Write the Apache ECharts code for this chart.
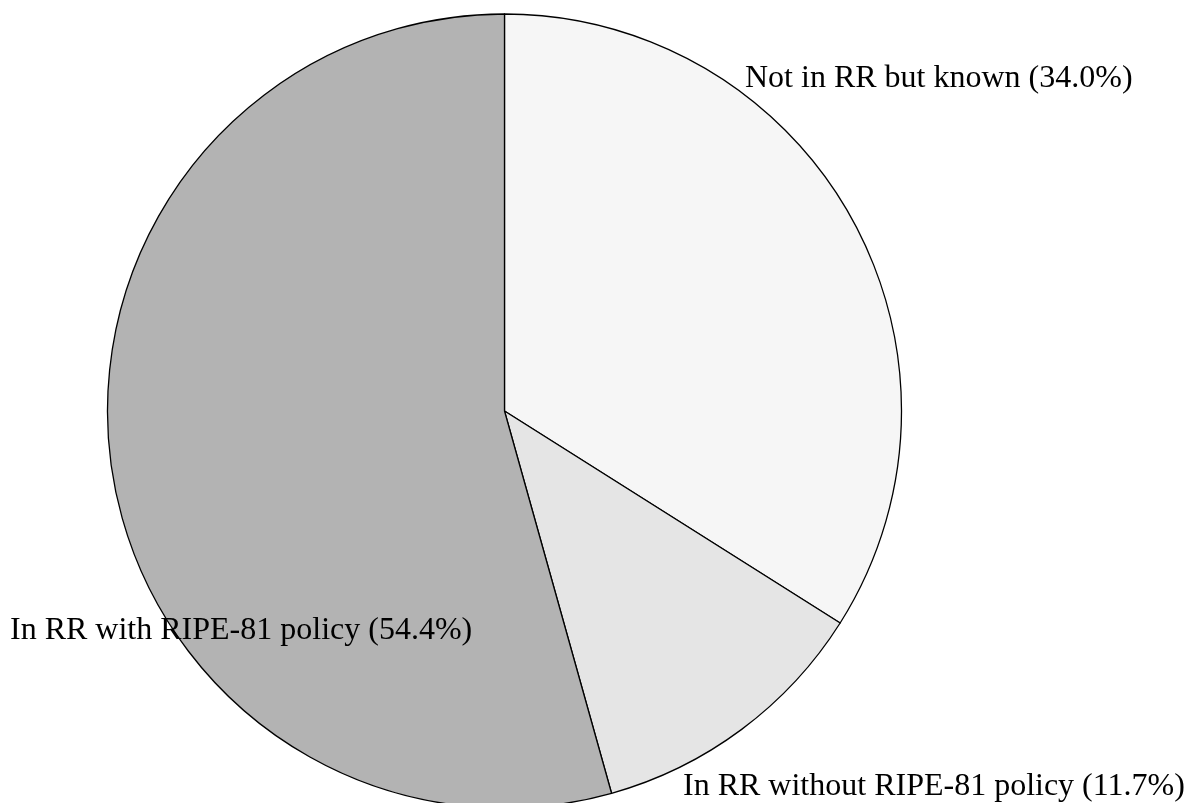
<!DOCTYPE html>
<html>
<head>
<meta charset="utf-8">
<script src="https://cdn.jsdelivr.net/npm/echarts@6/dist/echarts.min.js"></script>
<style>
html,body{margin:0;padding:0;background:#fff;}
#chart{width:1202px;height:803px;}
</style>
</head>
<body>
<div id="chart"></div>
<script>
const categories = ["Not in RR but known", "In RR without RIPE-81 policy", "In RR with RIPE-81 policy"];
const values = [34.0, 11.7, 54.4];
const sliceColors = ["#f6f6f6", "#e5e5e5", "#b3b3b3"];

const labelPos = [
  {x: 745, y: 79},
  {x: 683, y: 787},
  {x: 10, y: 631}
];

const chart = echarts.init(document.getElementById('chart'), null, {renderer: 'canvas'});
chart.setOption({
  animation: false,
  backgroundColor: '#ffffff',
  series: [{
    type: 'pie',
    center: [504.5, 411],
    radius: 397,
    startAngle: 90,
    clockwise: true,
    avoidLabelOverlap: false,
    silent: true,
    data: categories.map((c, i) => ({
      name: c,
      value: values[i],
      itemStyle: {color: sliceColors[i]}
    })),
    itemStyle: {borderColor: '#000', borderWidth: 1.3},
    label: {
      show: true,
      position: 'outside',
      formatter: p => p.name + ' (' + p.value.toFixed(1) + '%)',
      fontFamily: 'Liberation Serif',
      fontSize: 32,
      color: '#000'
    },
    labelLine: {show: false},
    labelLayout: p => ({
      x: labelPos[p.dataIndex].x,
      y: labelPos[p.dataIndex].y,
      align: 'left',
      verticalAlign: 'middle',
      hideOverlap: false
    }),
    emphasis: {disabled: true}
  }]
});
</script>
</body>
</html>
